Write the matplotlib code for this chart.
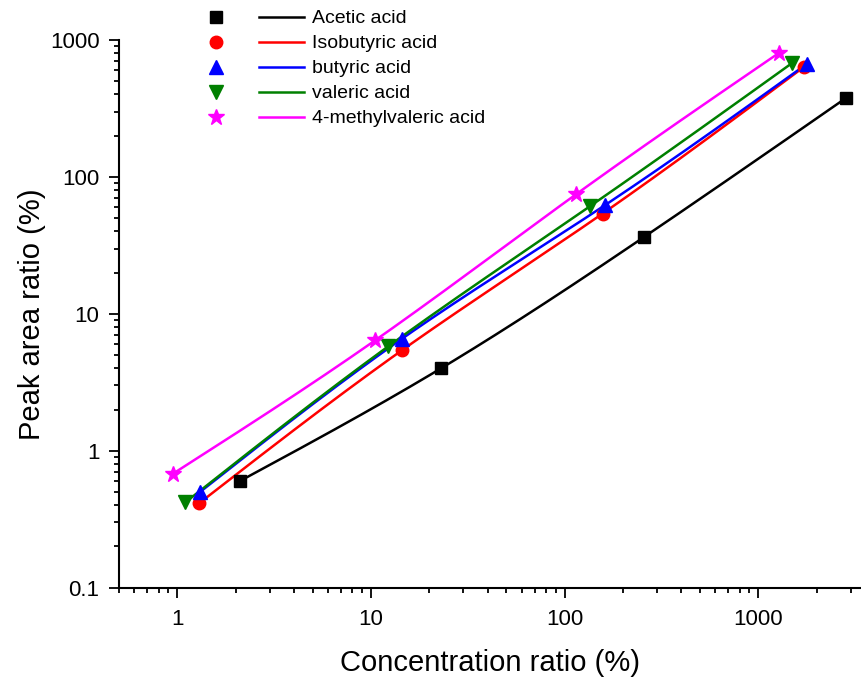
import numpy as np
import matplotlib
matplotlib.use("Agg")
import matplotlib.pyplot as plt
from matplotlib.lines import Line2D
from matplotlib.legend_handler import HandlerTuple
from matplotlib.ticker import FixedLocator, LogLocator, NullFormatter, FuncFormatter

plt.rcParams['font.family'] = ['Liberation Sans', 'DejaVu Sans']

# concentration ratio (%) vs peak area ratio (%)
acetic_x = [2.1, 23, 257, 2820]
acetic_y = [0.60, 4.0, 36.4, 375]
isobutyric_x = [1.30, 14.4, 157, 1726]
isobutyric_y = [0.415, 5.4, 54, 638]
butyric_x = [1.31, 14.5, 161, 1775]
butyric_y = [0.50, 6.6, 62, 667]
valeric_x = [1.10, 12.3, 135, 1486]
valeric_y = [0.42, 5.8, 61, 675]
methylvaleric_x = [0.95, 10.5, 115, 1282]
methylvaleric_y = [0.68, 6.4, 75, 807]

names = ["Acetic acid", "Isobutyric acid", "butyric acid", "valeric acid", "4-methylvaleric acid"]


def log_spline(xs, ys, n=200):
    # natural cubic spline through the points, in log-log space
    x = np.log10(xs)
    y = np.log10(ys)
    k = len(x)
    h = np.diff(x)
    A = np.zeros((k, k))
    b = np.zeros(k)
    A[0, 0] = A[-1, -1] = 1
    for i in range(1, k - 1):
        A[i, i - 1] = h[i - 1]
        A[i, i] = 2 * (h[i - 1] + h[i])
        A[i, i + 1] = h[i]
        b[i] = 6 * ((y[i + 1] - y[i]) / h[i] - (y[i] - y[i - 1]) / h[i - 1])
    M = np.linalg.solve(A, b)
    t = np.linspace(x[0], x[-1], n)
    i = np.clip(np.searchsorted(x, t) - 1, 0, k - 2)
    hi = h[i]
    a = x[i + 1] - t
    c = t - x[i]
    s = (M[i] * a**3 / (6 * hi) + M[i + 1] * c**3 / (6 * hi)
         + (y[i] / hi - M[i] * hi / 6) * a + (y[i + 1] / hi - M[i + 1] * hi / 6) * c)
    return 10**t, 10**s


fig = plt.figure(figsize=(8.62, 6.82), dpi=100)
ax = fig.add_axes([119 / 862, 1 - 587.7 / 682, (862 - 119) / 862, (587.7 - 40) / 682])

series = [
    (acetic_x, acetic_y, 'black', 's', 8),
    (isobutyric_x, isobutyric_y, 'red', 'o', 9),
    (butyric_x, butyric_y, 'blue', '^', 9.5),
    (valeric_x, valeric_y, 'green', 'v', 9.5),
    (methylvaleric_x, methylvaleric_y, 'magenta', '*', 12),
]

handles = []
for xs, ys, col, mk, ms in series:
    sx, sy = log_spline(xs, ys)
    ax.plot(sx, sy, color=col, lw=1.8, zorder=2)
    ax.plot(xs, ys, ls='none', marker=mk, ms=ms, color=col, mec=col, zorder=3)
    handles.append((Line2D([], [], ls='none', marker=mk, ms=ms, color=col),
                    Line2D([], [], color=col, lw=1.8)))

ax.set_xscale('log')
ax.set_yscale('log')
ax.set_xlim(0.5, 3430)
ax.set_ylim(0.1, 1000)

ax.xaxis.set_major_locator(FixedLocator([1, 10, 100, 1000]))
ax.yaxis.set_major_locator(FixedLocator([0.1, 1, 10, 100, 1000]))
ax.xaxis.set_minor_locator(LogLocator(base=10, subs=np.arange(2, 10), numticks=20))
ax.yaxis.set_minor_locator(LogLocator(base=10, subs=np.arange(2, 10), numticks=20))
fmt = FuncFormatter(lambda v, p: '%g' % v)
ax.xaxis.set_major_formatter(fmt)
ax.yaxis.set_major_formatter(fmt)
ax.xaxis.set_minor_formatter(NullFormatter())
ax.yaxis.set_minor_formatter(NullFormatter())

for s in ['top', 'right']:
    ax.spines[s].set_visible(False)
for s in ['left', 'bottom']:
    ax.spines[s].set_linewidth(1.5)
ax.tick_params(which='major', direction='out', length=7, width=1.3, labelsize=16)
ax.tick_params(which='minor', direction='out', length=3.8, width=1.3)
ax.tick_params(axis='x', which='major', pad=8)
ax.tick_params(axis='y', which='major', pad=7)

ax.set_xlabel('Concentration ratio (%)', fontsize=21, labelpad=14)
ax.set_ylabel('Peak area ratio (%)', fontsize=21, labelpad=3)

ax.legend(handles, names, loc='upper left', bbox_to_anchor=(0.2132, 1.0),
          bbox_transform=fig.transFigure, frameon=False, borderpad=0,
          fontsize=14, handlelength=5.68, handletextpad=0.4, labelspacing=0.38,
          handler_map={tuple: HandlerTuple(ndivide=None, pad=1.05)})

fig.savefig('out.png', dpi=100)
